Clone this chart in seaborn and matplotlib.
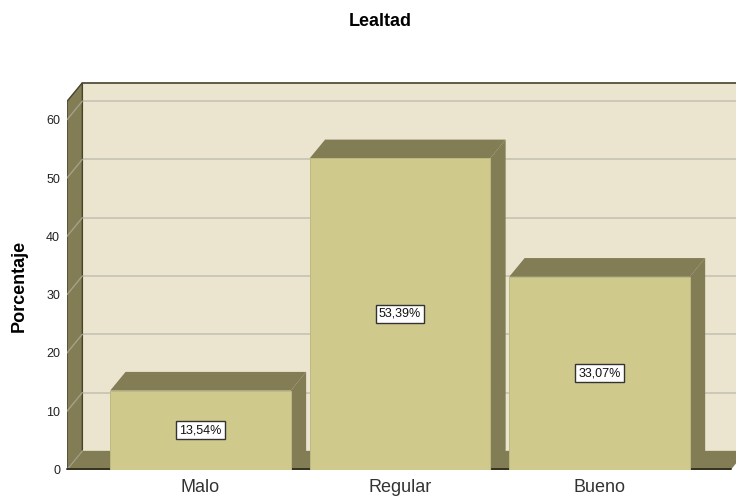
import matplotlib
matplotlib.use("Agg")
import matplotlib.pyplot as plt
import pandas as pd
import seaborn as sns
from matplotlib.patches import Polygon

categorias = ["Malo", "Regular", "Bueno"]
porcentajes = [13.54, 53.39, 33.07]
etiquetas = ["13,54%", "53,39%", "33,07%"]
ticks_y = [0, 10, 20, 30, 40, 50, 60]

PARED = "#ebe5d0"
OSCURO = "#827d55"
BARRA = "#cfca8c"
REJILLA = "#c9c5b5"
NEGRO = "#35331f"

# profundidad del falso 3D, en unidades de datos
DX = 0.077
DY = 3.2
YMAX = 66.35

sns.set_theme(style="white")
plt.rcParams["font.family"] = ["Liberation Sans", "DejaVu Sans"]

df = pd.DataFrame({"categoria": categorias, "porcentaje": porcentajes})

fig = plt.figure(figsize=(7.36, 4.96), dpi=100)
ax = fig.add_axes([67 / 736, 26.5 / 496, 669 / 736, 386.8 / 496])
ax.patch.set_alpha(0)

sns.barplot(data=df, x="categoria", y="porcentaje", color=BARRA, saturation=1,
            width=0.905, ax=ax, zorder=5, edgecolor="#bdb981", linewidth=0.7)

x0, x1 = -0.669, 2.684
ax.set_xlim(x0, x1)
ax.set_ylim(0, YMAX)

# paredes y suelo
fin = x1 + 2
ax.add_patch(Polygon([(x0 + DX, DY), (fin, DY), (fin, YMAX), (x0 + DX, YMAX)],
                     facecolor=PARED, edgecolor="none", zorder=1))
ax.add_patch(Polygon([(x0, 0), (x0 + DX, DY), (x0 + DX, YMAX), (x0, YMAX - DY)],
                     facecolor=OSCURO, edgecolor="#45432c", linewidth=1, zorder=2))
ax.add_patch(Polygon([(x0, 0), (x1 - 0.025, 0), (x1 - 0.025 + DX, DY), (x0 + DX, DY)],
                     facecolor=OSCURO, edgecolor="none", zorder=2))

for t in ticks_y[1:]:
    ax.plot([x0 + DX, fin], [t + DY, t + DY], color=REJILLA, lw=1.3, zorder=1.5)
    ax.plot([x0, x0 + DX], [t, t + DY], color="#a5a18a", lw=1, zorder=2.5)
ax.plot([x0, x0 + DX], [0, DY], color="#a5a18a", lw=1, zorder=2.5)
ax.plot([x0 + DX, fin], [YMAX - 0.05, YMAX - 0.05], color="#45432c", lw=1.2, zorder=3, clip_on=False)
ax.plot([x0, x1 - 0.025], [0.05, 0.05], color=NEGRO, lw=1.4, zorder=3, clip_on=False)

# caras lateral y superior de cada barra
for barra, etiqueta in zip(ax.patches[:3], etiquetas):
    a = barra.get_x()
    b = a + barra.get_width()
    h = barra.get_height()
    ax.add_patch(Polygon([(b, 0), (b + DX, DY), (b + DX, h + DY), (b, h)],
                         facecolor=OSCURO, edgecolor="none", zorder=4))
    ax.add_patch(Polygon([(a, h), (a + DX, h + DY), (b + DX, h + DY), (b, h)],
                         facecolor=OSCURO, edgecolor="none", zorder=4))
    ax.text(a + barra.get_width() / 2, h / 2, etiqueta, ha="center", va="center",
            fontsize=9, color="#111111", zorder=6,
            bbox=dict(boxstyle="square,pad=0.25", facecolor="white",
                      edgecolor="#333333", linewidth=1))

ax.set_yticks(ticks_y)
ax.set_yticklabels([str(t) for t in ticks_y], fontsize=9, color="#222222")
ax.tick_params(axis="y", length=0, pad=5)
ax.tick_params(axis="x", length=0, pad=6.5, labelsize=13, labelcolor="#333333")
ax.set_xlabel("")
ax.set_ylabel("")
sns.despine(ax=ax, left=True, bottom=True)

fig.text(380.5 / 736, 1 - 21 / 496, "Lealtad", ha="center", va="center",
         fontsize=13, fontweight="bold", color="black")
fig.text(19.5 / 736, 1 - 286 / 496, "Porcentaje", rotation=90, ha="center", va="center",
         fontsize=13, fontweight="bold", color="black")

fig.savefig("out.png", dpi=100)
